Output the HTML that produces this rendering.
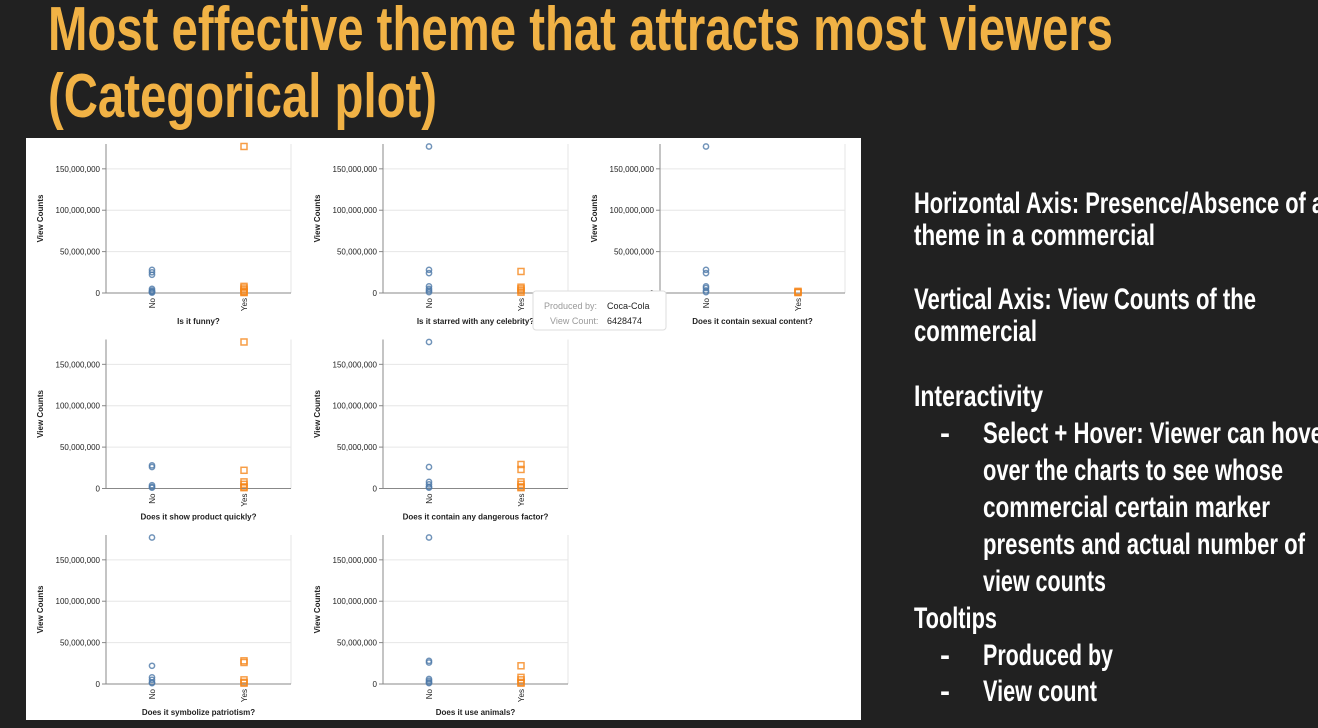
<!DOCTYPE html>
<html><head><meta charset="utf-8">
<style>
body{margin:0;background:#212121;width:1318px;height:728px;overflow:hidden;}
svg{display:block;}
</style></head>
<body>
<svg id="s" width="1318" height="728" xmlns="http://www.w3.org/2000/svg" font-family="Liberation Sans, sans-serif">
<rect width="1318" height="728" fill="#212121"/>
<g fill="#f1b245" font-weight="bold" font-size="62">
<text x="48" y="50" textLength="1065" lengthAdjust="spacingAndGlyphs">Most effective theme that attracts most viewers</text>
<text x="48" y="117" textLength="389" lengthAdjust="spacingAndGlyphs">(Categorical plot)</text>
</g>
<rect x="26" y="138" width="835" height="582" fill="#fff"/>
<g id="charts"></g>
<g>
<rect x="533" y="291" width="133" height="39" rx="3" fill="#fff" stroke="#ddd"/>
<text x="544" y="309" font-size="9" fill="#999">Produced by:</text>
<text x="607" y="309" font-size="9" fill="#222">Coca-Cola</text>
<text x="550" y="324" font-size="9" fill="#999">View Count:</text>
<text x="607" y="324" font-size="9" fill="#222">6428474</text>
</g>
<g fill="#fff" font-weight="bold" font-size="30">
<text x="914" y="213" textLength="410" lengthAdjust="spacingAndGlyphs">Horizontal Axis: Presence/Absence of a</text>
<text x="914" y="245" textLength="241" lengthAdjust="spacingAndGlyphs">theme in a commercial</text>
<text x="914" y="309" textLength="342" lengthAdjust="spacingAndGlyphs">Vertical Axis: View Counts of the</text>
<text x="914" y="341" textLength="123" lengthAdjust="spacingAndGlyphs">commercial</text>
<text x="914" y="406" textLength="129" lengthAdjust="spacingAndGlyphs">Interactivity</text>
<text x="940" y="443">-</text>
<text x="983" y="443" textLength="340" lengthAdjust="spacingAndGlyphs">Select + Hover: Viewer can hove</text>
<text x="983" y="480" textLength="300" lengthAdjust="spacingAndGlyphs">over the charts to see whose</text>
<text x="983" y="517" textLength="287" lengthAdjust="spacingAndGlyphs">commercial certain marker</text>
<text x="983" y="554" textLength="322" lengthAdjust="spacingAndGlyphs">presents and actual number of</text>
<text x="983" y="591" textLength="123" lengthAdjust="spacingAndGlyphs">view counts</text>
<text x="914" y="628" textLength="83" lengthAdjust="spacingAndGlyphs">Tooltips</text>
<text x="940" y="665">-</text>
<text x="983" y="665" textLength="130" lengthAdjust="spacingAndGlyphs">Produced by</text>
<text x="940" y="701">-</text>
<text x="983" y="701" textLength="114" lengthAdjust="spacingAndGlyphs">View count</text>
</g>
</svg>
<script>
const titles=["Is it funny?","Is it starred with any celebrity?","Does it contain sexual content?","Does it show product quickly?","Does it contain any dangerous factor?","Does it symbolize patriotism?","Does it use animals?"];
const categories=["No","Yes"];
const yTicks=[0,50000000,100000000,150000000];
const noValues=[
[28e6,25e6,22e6,5e6,3e6,1e6,2e6,0.5e6],
[177e6,28e6,24e6,8e6,5e6,3e6,1e6],
[177e6,28e6,24e6,8e6,6e6,3e6,1e6],
[28e6,26e6,4e6,2e6,1e6],
[177e6,26e6,8e6,5e6,2e6,1e6],
[177e6,22e6,8e6,5e6,2e6,1e6],
[177e6,28e6,26e6,6e6,4e6,2e6,1e6]];
const yesValues=[
[177e6,8e6,6e6,4e6,2e6,1e6,0.5e6],
[26e6,7e6,5e6,3e6,1e6],
[2e6,1e6,0.5e6],
[177e6,22e6,8e6,5e6,2e6,1e6],
[29e6,23e6,8e6,5e6,2e6,1e6],
[28e6,26e6,5e6,2e6,1e6],
[22e6,8e6,5e6,2e6,1e6]];
const NS="http://www.w3.org/2000/svg";
const root=document.getElementById('charts');
function mk(tag,attrs,parent){const e=document.createElementNS(NS,tag);for(const k in attrs)e.setAttribute(k,attrs[k]);parent.appendChild(e);return e;}
const pos=[[0,0],[1,0],[2,0],[0,1],[1,1],[0,2],[1,2]];
titles.forEach((t,i)=>{
  const left=106+pos[i][0]*277, right=left+185;
  const zero=293+pos[i][1]*195.5, top=zero-149;
  const y=v=>zero-(v/180e6)*149;
  const x=c=>left+46+categories.indexOf(c)*92;
  const g=mk('g',{},root);
  
  
  yTicks.forEach(v=>{
    mk('line',{x1:left,x2:right,y1:y(v),y2:y(v),stroke:'#e6e6e6'},g);
    mk('line',{x1:left-4,x2:left,y1:y(v),y2:y(v),stroke:'#888'},g);
    const tx=mk('text',{x:left-6,y:y(v)+3,'font-size':8,'text-anchor':'end',fill:'#222'},g);
    tx.textContent=v.toLocaleString('en-US');
    
    
  });
  mk('line',{x1:right,x2:right,y1:top,y2:zero,stroke:'#e6e6e6'},g);
  mk('line',{x1:left,x2:left,y1:top,y2:zero,stroke:'#888'},g);
  mk('line',{x1:left,x2:right,y1:zero,y2:zero,stroke:'#888'},g);
  categories.forEach(c=>{
    const tx=mk('text',{x:0,y:0,'font-size':8,'text-anchor':'end',fill:'#222',transform:`translate(${x(c)+3},${zero+5}) rotate(-90)`},g);
    tx.textContent=c;
    
    
  });
  const yt=mk('text',{x:0,y:0,'font-size':8,'font-weight':'bold','text-anchor':'middle',fill:'#222',transform:`translate(${left-63},${(top+zero)/2}) rotate(-90)`},g);
  yt.textContent='View Counts';
  
  
  const xt=mk('text',{x:(left+right)/2,y:zero+31,'font-size':8,'font-weight':'bold','text-anchor':'middle',fill:'#222'},g);
  xt.textContent=t;
  
  
  noValues[i].forEach(v=>{
    const c=mk('circle',{cx:x('No'),cy:y(v),r:2.6,fill:'none',stroke:'#4c78a8','stroke-width':1.5,opacity:0.8},g);
    
    
  });
  yesValues[i].forEach(v=>{
    const r=mk('rect',{x:x('Yes')-3,y:y(v)-3,width:6,height:6,fill:'none',stroke:'#f58518','stroke-width':1.5,opacity:0.8},g);
    
    
  });
});
</script>
</body></html>
